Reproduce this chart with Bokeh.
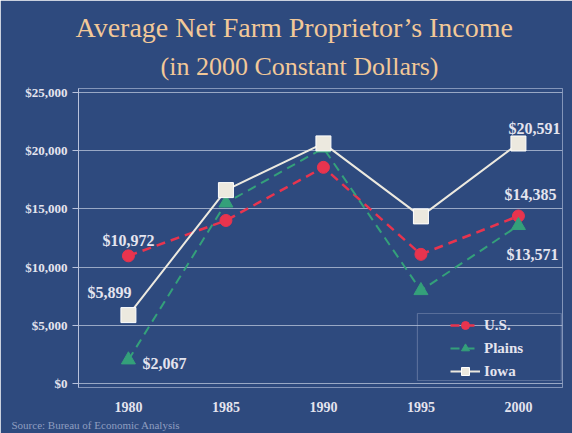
from bokeh.plotting import figure
from bokeh.models import (ColumnDataSource, Range1d, FixedTicker, NumeralTickFormatter,
                          Legend, LegendItem, Label, BoxAnnotation, Title)
from bokeh.embed import file_html
from bokeh.resources import INLINE

# ---- data ----
years = [1980, 1985, 1990, 1995, 2000]
us = [10972, 14000, 18550, 11100, 14385]
plains = [2067, 15500, 20200, 8000, 13571]
iowa = [5899, 16600, 20600, 14350, 20591]
y_ticks = [0, 5000, 10000, 15000, 20000, 25000]
title1 = "Average Net Farm Proprietor\u2019s Income"
title2 = "(in 2000 Constant Dollars)"
source_note = "Source: Bureau of Economic Analysis"
series_names = ["U.S.", "Plains", "Iowa"]

BG = "#2e4a7e"
TXT = "#e4e4ee"
SERIF = "Liberation Serif"
RED = "#e8344e"
GREEN = "#34a07a"
WHITE = "#ece9df"
PEACH = "#f2c898"

p = figure(width=572, height=433, output_backend="svg", toolbar_location=None,
           x_range=Range1d(1977.44, 2002.26), y_range=Range1d(-300, 25300),
           min_border_left=78, min_border_right=10, min_border_top=88, min_border_bottom=46,
           background_fill_color=BG, border_fill_color=BG)
p.outline_line_color = "#9aaacc"
p.outline_line_alpha = 0.6

# titles (the one added later sits closer to the plot)
p.title.text = title1
p.title.align = "left"
p.title.text_font = SERIF
p.title.text_font_style = "normal"
p.title.text_font_size = "28px"
p.title.text_color = PEACH
p.title.standoff = 0
p.title.offset = -3
p.add_layout(Title(text=title2, align="left", text_font=SERIF, text_font_style="normal",
                   text_font_size="26px", text_color=PEACH, standoff=15, offset=82), "above")

# axes
p.yaxis.ticker = FixedTicker(ticks=y_ticks)
p.yaxis.formatter = NumeralTickFormatter(format="$0,0")
p.yaxis.major_label_text_font = SERIF
p.yaxis.major_label_text_font_style = "bold"
p.yaxis.major_label_text_font_size = "13px"
p.yaxis.major_label_text_color = TXT
p.yaxis.axis_line_color = "#b8c2dc"
p.yaxis.major_tick_line_color = "#b8c2dc"
p.yaxis.major_tick_out = 6
p.yaxis.major_tick_in = 0
p.yaxis.minor_tick_line_color = None
p.yaxis.major_label_standoff = 5

p.xaxis.ticker = FixedTicker(ticks=years)
p.xaxis.major_label_text_font = SERIF
p.xaxis.major_label_text_font_style = "bold"
p.xaxis.major_label_text_font_size = "14px"
p.xaxis.major_label_text_color = TXT
p.xaxis.axis_line_color = None
p.xaxis.major_tick_line_color = None
p.xaxis.minor_tick_line_color = None
p.xaxis.major_label_standoff = 8

p.xgrid.grid_line_color = None
p.ygrid.ticker = FixedTicker(ticks=y_ticks)
p.ygrid.grid_line_color = "#c8d0e4"
p.ygrid.grid_line_alpha = 0.7
p.ygrid.grid_line_width = 1

# source note
p.add_layout(Title(text=source_note, align="left", text_font=SERIF, text_font_style="normal",
                   text_font_size="11px", text_color="#8e9ec0", offset=-67, standoff=4), "below")

# series
src = ColumnDataSource(dict(x=years, us=us, plains=plains, iowa=iowa))
l_us = p.line("x", "us", source=src, line_color=RED, line_width=2.5, line_dash="9 6")
m_us = p.scatter("x", "us", source=src, marker="circle", size=12, fill_color=RED, line_color=RED)
l_pl = p.line("x", "plains", source=src, line_color=GREEN, line_width=2, line_dash="9 6")
m_pl = p.scatter("x", "plains", source=src, marker="triangle", size=14, fill_color=GREEN, line_color=GREEN)
l_io = p.line("x", "iowa", source=src, line_color=WHITE, line_width=2)
m_io = p.scatter("x", "iowa", source=src, marker="square", size=15, fill_color=WHITE, line_color="#ffffff")

# value labels (text built from the data values)
label_specs = [
    (us, 0, 0, -15, "center"),
    (iowa, 0, -19, -23, "center"),
    (plains, 0, 14, 4, "left"),
    (iowa, 4, 16, -15, "center"),
    (us, 4, 12, -21, "center"),
    (plains, 4, 14, 29, "center"),
]
for arr, i, dx, dy, al in label_specs:
    p.add_layout(Label(x=years[i], y=arr[i], text=f"${arr[i]:,}", x_offset=dx, y_offset=-dy,
                       text_align=al, text_baseline="middle", text_font=SERIF,
                       text_font_style="bold", text_font_size="16px", text_color=TXT))

# legend box + legend
p.add_layout(BoxAnnotation(left=1994.82, right=2002.2, bottom=300, top=6036,
                           fill_alpha=0, line_color="#b8c2dc", line_width=1.2))
legend = Legend(items=[LegendItem(label=series_names[0], renderers=[l_us, m_us]),
                       LegendItem(label=series_names[1], renderers=[l_pl, m_pl]),
                       LegendItem(label=series_names[2], renderers=[l_io, m_io])],
                location=(368, 2), padding=4, spacing=3, margin=0,
                glyph_width=30, glyph_height=20, label_height=20, label_standoff=4,
                label_text_font=SERIF, label_text_font_style="bold",
                label_text_font_size="15px", label_text_color=TXT,
                background_fill_alpha=0, border_line_alpha=0)
p.add_layout(legend, "center")

open("out.html", "w").write(file_html(p, INLINE))
